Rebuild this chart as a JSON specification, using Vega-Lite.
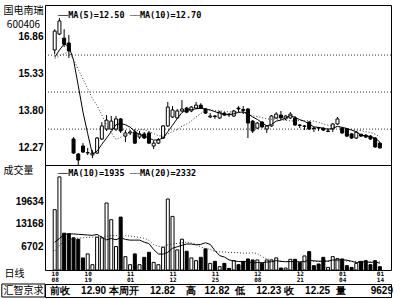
{
"$schema": "https://vega.github.io/schema/vega-lite/v6.json",
"background": "white",
"padding": {"left": 0, "top": 4, "right": 3, "bottom": 0},
"bounds": "full",
"spacing": 0,
"config": {
  "view": {"stroke": "#000", "strokeWidth": 1},
  "axis": {"ticks": false, "domain": false, "grid": false, "labelFont": "Liberation Sans", "labelFontWeight": "bold", "labelFontSize": 10, "labelColor": "#000", "titleColor": "#000", "titleFont": "Noto Sans CJK SC", "titleFontWeight": "normal", "titleFontSize": 10}
},
"datasets": {
"k": [
{"d":1,"o":16.30,"h":17.16,"l":16.13,"c":17.08,"v":17240,"m5":16.00,"m10":15.95,"vm10":7930,"vm20":5550},
{"d":2,"o":16.96,"h":17.62,"l":16.92,"c":17.50,"v":26600,"m5":16.30,"m10":16.05,"vm10":9000,"vm20":7000},
{"d":3,"o":16.79,"h":17.16,"l":16.42,"c":16.54,"v":10520,"m5":16.55,"m10":16.15,"vm10":10150,"vm20":8400},
{"d":4,"o":16.59,"h":16.92,"l":15.97,"c":16.26,"v":10340,"m5":16.45,"m10":16.22,"vm10":10340,"vm20":8700},
{"d":5,"o":12.62,"h":12.70,"l":12.00,"c":12.04,"v":9200,"m5":15.88,"m10":15.90,"vm10":10300,"vm20":8900},
{"d":6,"o":12.00,"h":12.04,"l":11.54,"c":11.75,"v":8800,"m5":14.82,"m10":15.50,"vm10":10200,"vm20":9100},
{"d":7,"o":12.33,"h":12.45,"l":12.04,"c":12.08,"v":3450,"m5":13.73,"m10":15.10,"vm10":10100,"vm20":9200},
{"d":8,"o":12.04,"h":12.25,"l":11.96,"c":12.06,"v":4600,"m5":12.84,"m10":14.70,"vm10":10000,"vm20":9300},
{"d":9,"o":11.96,"h":12.16,"l":11.83,"c":12.04,"v":1520,"m5":11.99,"m10":14.30,"vm10":9900,"vm20":9370},
{"d":10,"o":12.04,"h":12.70,"l":12.00,"c":12.66,"v":9370,"m5":12.12,"m10":14.00,"vm10":10164,"vm20":9500},
{"d":11,"o":12.62,"h":13.32,"l":12.58,"c":13.16,"v":9200,"m5":12.40,"m10":13.61,"vm10":9360,"vm20":9600},
{"d":12,"o":13.03,"h":13.61,"l":12.95,"c":13.40,"v":19140,"m5":12.66,"m10":13.20,"vm10":8614,"vm20":9700},
{"d":13,"o":13.03,"h":13.57,"l":12.99,"c":13.36,"v":14370,"m5":12.92,"m10":12.88,"vm10":8999,"vm20":9800},
{"d":14,"o":13.03,"h":13.57,"l":12.95,"c":13.45,"v":6700,"m5":13.21,"m10":12.60,"vm10":8635,"vm20":9850},
{"d":15,"o":13.45,"h":13.49,"l":12.87,"c":12.95,"v":15120,"m5":13.26,"m10":12.69,"vm10":9227,"vm20":9900},
{"d":16,"o":12.74,"h":12.99,"l":12.49,"c":12.87,"v":3820,"m5":13.21,"m10":12.80,"vm10":8729,"vm20":9800},
{"d":17,"o":12.87,"h":12.99,"l":12.78,"c":12.91,"v":1520,"m5":13.11,"m10":12.89,"vm10":8536,"vm20":9700},
{"d":18,"o":12.91,"h":13.03,"l":12.41,"c":12.45,"v":4600,"m5":12.93,"m10":12.93,"vm10":8536,"vm20":9500},
{"d":19,"o":12.70,"h":12.95,"l":12.62,"c":12.83,"v":1520,"m5":12.80,"m10":13.00,"vm10":8536,"vm20":9300},
{"d":20,"o":12.83,"h":12.91,"l":12.62,"c":12.66,"v":3620,"m5":12.74,"m10":13.00,"vm10":7961,"vm20":9063},
{"d":21,"o":12.87,"h":12.95,"l":12.41,"c":12.45,"v":5060,"m5":12.66,"m10":12.93,"vm10":7547,"vm20":8454},
{"d":22,"o":12.33,"h":12.54,"l":12.20,"c":12.45,"v":2180,"m5":12.57,"m10":12.84,"vm10":5851,"vm20":7233},
{"d":23,"o":12.45,"h":12.66,"l":12.41,"c":12.58,"v":1520,"m5":12.59,"m10":12.76,"vm10":4566,"vm20":6783},
{"d":24,"o":12.66,"h":13.20,"l":12.62,"c":13.16,"v":6500,"m5":12.66,"m10":12.73,"vm10":4546,"vm20":6591},
{"d":25,"o":13.16,"h":14.15,"l":13.12,"c":13.94,"v":20290,"m5":12.92,"m10":12.83,"vm10":5063,"vm20":7145},
{"d":26,"o":13.53,"h":13.98,"l":13.49,"c":13.82,"v":15320,"m5":13.19,"m10":12.93,"vm10":6213,"vm20":7471},
{"d":27,"o":13.49,"h":13.86,"l":13.45,"c":13.78,"v":5750,"m5":13.46,"m10":13.01,"vm10":6636,"vm20":7586},
{"d":28,"o":13.78,"h":14.23,"l":13.73,"c":13.86,"v":8800,"m5":13.71,"m10":13.15,"vm10":7056,"vm20":7796},
{"d":29,"o":13.90,"h":13.94,"l":13.69,"c":13.73,"v":5350,"m5":13.83,"m10":13.24,"vm10":7439,"vm20":7988},
{"d":30,"o":13.78,"h":13.98,"l":13.73,"c":13.94,"v":3450,"m5":13.83,"m10":13.37,"vm10":7422,"vm20":7692},
{"d":31,"o":13.90,"h":14.15,"l":13.86,"c":14.02,"v":2670,"m5":13.87,"m10":13.53,"vm10":7183,"vm20":7365},
{"d":32,"o":14.02,"h":14.10,"l":13.86,"c":13.90,"v":3620,"m5":13.89,"m10":13.67,"vm10":7327,"vm20":6589},
{"d":33,"o":13.86,"h":13.90,"l":13.65,"c":13.69,"v":6030,"m5":13.86,"m10":13.78,"vm10":7778,"vm20":6172},
{"d":34,"o":13.53,"h":13.69,"l":13.49,"c":13.57,"v":1900,"m5":13.82,"m10":13.83,"vm10":7318,"vm20":5932},
{"d":35,"o":13.57,"h":13.61,"l":13.45,"c":13.55,"v":2470,"m5":13.75,"m10":13.79,"vm10":5536,"vm20":5300},
{"d":36,"o":13.49,"h":13.78,"l":13.45,"c":13.73,"v":950,"m5":13.69,"m10":13.78,"vm10":4099,"vm20":5156},
{"d":37,"o":13.69,"h":13.73,"l":13.57,"c":13.61,"v":1900,"m5":13.63,"m10":13.76,"vm10":3714,"vm20":5175},
{"d":38,"o":13.65,"h":13.69,"l":13.53,"c":13.63,"v":460,"m5":13.62,"m10":13.74,"vm10":2880,"vm20":4968},
{"d":39,"o":13.57,"h":13.82,"l":13.53,"c":13.78,"v":2670,"m5":13.66,"m10":13.74,"vm10":2612,"vm20":5026},
{"d":40,"o":13.90,"h":13.98,"l":13.73,"c":13.86,"v":1520,"m5":13.72,"m10":13.73,"vm10":2419,"vm20":4921},
{"d":41,"o":13.84,"h":13.98,"l":13.65,"c":13.80,"v":2470,"m5":13.74,"m10":13.71,"vm10":2399,"vm20":4791},
{"d":42,"o":13.86,"h":13.90,"l":12.66,"c":13.28,"v":3160,"m5":13.67,"m10":13.65,"vm10":2353,"vm20":4840},
{"d":43,"o":13.36,"h":13.40,"l":12.87,"c":12.95,"v":2870,"m5":13.53,"m10":13.58,"vm10":2037,"vm20":4908},
{"d":44,"o":13.07,"h":13.32,"l":13.03,"c":13.28,"v":2870,"m5":13.43,"m10":13.55,"vm10":2134,"vm20":4726},
{"d":45,"o":13.32,"h":13.36,"l":13.07,"c":13.12,"v":1900,"m5":13.29,"m10":13.50,"vm10":2077,"vm20":3807},
{"d":46,"o":13.03,"h":13.20,"l":12.87,"c":13.16,"v":2870,"m5":13.16,"m10":13.45,"vm10":2269,"vm20":3184},
{"d":47,"o":13.16,"h":13.61,"l":13.12,"c":13.57,"v":2870,"m5":13.22,"m10":13.44,"vm10":2366,"vm20":3040},
{"d":48,"o":13.49,"h":13.73,"l":13.45,"c":13.65,"v":3450,"m5":13.36,"m10":13.45,"vm10":2665,"vm20":2773},
{"d":49,"o":13.61,"h":13.78,"l":13.45,"c":13.49,"v":570,"m5":13.40,"m10":13.42,"vm10":2455,"vm20":2534},
{"d":50,"o":13.45,"h":13.61,"l":13.40,"c":13.57,"v":570,"m5":13.49,"m10":13.39,"vm10":2360,"vm20":2390},
{"d":51,"o":13.49,"h":13.73,"l":13.45,"c":13.65,"v":3050,"m5":13.59,"m10":13.37,"vm10":2418,"vm20":2409},
{"d":52,"o":13.49,"h":13.57,"l":13.16,"c":13.20,"v":3050,"m5":13.51,"m10":13.36,"vm10":2407,"vm20":2380},
{"d":53,"o":13.20,"h":13.24,"l":13.07,"c":13.18,"v":2100,"m5":13.42,"m10":13.39,"vm10":2330,"vm20":2184},
{"d":54,"o":13.14,"h":13.20,"l":12.99,"c":13.16,"v":4020,"m5":13.35,"m10":13.38,"vm10":2445,"vm20":2290},
{"d":55,"o":13.32,"h":13.36,"l":12.99,"c":13.03,"v":5260,"m5":13.24,"m10":13.37,"vm10":2781,"vm20":2429},
{"d":56,"o":13.07,"h":13.12,"l":12.91,"c":13.05,"v":1240,"m5":13.12,"m10":13.36,"vm10":2618,"vm20":2444},
{"d":57,"o":13.09,"h":13.12,"l":12.95,"c":13.07,"v":1720,"m5":13.10,"m10":13.31,"vm10":2503,"vm20":2435},
{"d":58,"o":13.07,"h":13.10,"l":12.95,"c":12.99,"v":3620,"m5":13.06,"m10":13.24,"vm10":2520,"vm20":2593},
{"d":59,"o":12.93,"h":13.07,"l":12.91,"c":12.95,"v":750,"m5":13.02,"m10":13.19,"vm10":2538,"vm20":2497},
{"d":60,"o":13.03,"h":13.28,"l":12.91,"c":13.24,"v":3820,"m5":13.06,"m10":13.15,"vm10":2863,"vm20":2612},
{"d":61,"o":13.24,"h":13.53,"l":13.20,"c":13.45,"v":3250,"m5":13.14,"m10":13.13,"vm10":2883,"vm20":2651},
{"d":62,"o":13.07,"h":13.12,"l":12.83,"c":12.87,"v":3160,"m5":13.10,"m10":13.10,"vm10":2894,"vm20":2651},
{"d":63,"o":13.03,"h":13.07,"l":12.70,"c":12.74,"v":1240,"m5":13.05,"m10":13.06,"vm10":2808,"vm20":2569},
{"d":64,"o":12.83,"h":12.87,"l":12.62,"c":12.66,"v":750,"m5":12.99,"m10":13.01,"vm10":2481,"vm20":2463},
{"d":65,"o":12.66,"h":12.95,"l":12.62,"c":12.90,"v":1900,"m5":12.92,"m10":12.99,"vm10":2145,"vm20":2463},
{"d":66,"o":12.82,"h":12.82,"l":12.70,"c":12.74,"v":2470,"m5":12.78,"m10":12.96,"vm10":2268,"vm20":2443},
{"d":67,"o":12.78,"h":12.82,"l":12.66,"c":12.70,"v":2670,"m5":12.75,"m10":12.92,"vm10":2363,"vm20":2433},
{"d":68,"o":12.74,"h":12.78,"l":12.58,"c":12.62,"v":1520,"m5":12.72,"m10":12.89,"vm10":2152,"vm20":2337},
{"d":69,"o":12.66,"h":12.70,"l":12.25,"c":12.29,"v":2670,"m5":12.65,"m10":12.82,"vm10":2344,"vm20":2442},
{"d":70,"o":12.45,"h":12.49,"l":12.23,"c":12.25,"v":950,"m5":12.50,"m10":12.70,"vm10":1935,"vm20":2332}
]
},
"vconcat": [
{
"bounds": "flush",
"spacing": 0,
"vconcat": [
{
  "width": 346, "height": 160,
  "data": {"name": "k"},
  "title": {"text": "──MA(5)=12.50 ┈┈MA(10)=12.70", "orient": "top", "anchor": "start", "frame": "group", "offset": -18, "dx": 13, "baseline": "middle", "font": "DejaVu Sans Mono", "fontSize": 8.5, "fontWeight": "bold", "color": "#000"},
  "encoding": {"x": {"field": "d", "type": "quantitative", "scale": {"domain": [0, 71.3], "nice": false, "zero": false}, "axis": null}},
  "layer": [
    {"data": {"values": [{"g": 13.03}, {"g": 14.56}, {"g": 16.09}]},
     "mark": {"type": "rule", "color": "#333", "strokeDash": [1, 2], "strokeWidth": 1},
     "encoding": {"x": null, "y": {"field": "g", "type": "quantitative", "scale": {"domain": [11.545, 18.16], "nice": false, "zero": false},
        "axis": {"values": [12.27, 13.03, 13.80, 14.56, 15.33, 16.09, 16.86], "format": ".2f", "labelOverlap": false, "labelPadding": 2, "title": ["国电南瑞", "600406"], "titleAngle": 0, "titleX": -22, "titleY": 0, "titleAlign": "center", "titleBaseline": "top", "titleLineHeight": 14}}}},
    {"mark": {"type": "rule", "color": "#000", "strokeWidth": 1},
     "encoding": {"y": {"field": "l", "type": "quantitative"}, "y2": {"field": "h"}}},
    {"mark": {"type": "bar", "orient": "vertical", "size": 3, "stroke": "#000", "strokeWidth": 1},
     "encoding": {"y": {"field": "o", "type": "quantitative"}, "y2": {"field": "c"},
        "fill": {"condition": {"test": "datum.c >= datum.o", "value": "#fff"}, "value": "#000"}}},
    {"mark": {"type": "line", "color": "#333", "strokeWidth": 1, "strokeDash": [1, 2]},
     "encoding": {"y": {"field": "m10", "type": "quantitative"}}},
    {"mark": {"type": "line", "color": "#000", "strokeWidth": 1},
     "encoding": {"y": {"field": "m5", "type": "quantitative"}}}
  ]
},
{
  "width": 346, "height": 105,
  "data": {"name": "k"},
  "title": {"text": "──MA(10)=1935 ┈┈MA(20)=2332", "orient": "top", "anchor": "start", "frame": "group", "offset": -16, "dx": 13, "baseline": "middle", "font": "DejaVu Sans Mono", "fontSize": 8.5, "fontWeight": "bold", "color": "#000"},
  "encoding": {"x": {"field": "d", "type": "quantitative", "scale": {"domain": [0, 71.3], "nice": false, "zero": false},
     "axis": {"values": [1, 8, 17, 26, 35, 44, 53, 62, 70],
       "labelExpr": "datum.value == 1 ? ['10','08'] : datum.value == 8 ? ['10','19'] : datum.value == 17 ? ['11','01'] : datum.value == 26 ? ['11','12'] : datum.value == 35 ? ['11','25'] : datum.value == 44 ? ['12','08'] : datum.value == 53 ? ['12','21'] : datum.value == 62 ? ['01','04'] : ['01','14']",
       "labelFont": "DejaVu Sans Mono", "labelFontSize": 6, "labelFontWeight": "bold", "labelLineHeight": 6.5, "labelBaseline": "top", "labelPadding": 0, "labelDx": -3, "labelFlush": false, "labelOverlap": false,
       "title": "日线", "titleAngle": 0, "titleX": -41, "titleY": -2, "titleAlign": "left", "titleBaseline": "top"}}},
  "layer": [
    {"mark": {"type": "bar", "orient": "vertical", "size": 3, "stroke": "#000", "strokeWidth": 1},
     "encoding": {"y": {"field": "v", "type": "quantitative", "scale": {"domain": [0, 30000], "nice": false},
        "axis": {"values": [6702, 13168, 19634], "format": "d", "labelOverlap": false, "labelPadding": 2, "title": "成交量", "titleAngle": 0, "titleX": -42, "titleY": 0, "titleAlign": "left", "titleBaseline": "top"}},
        "fill": {"condition": {"test": "datum.c >= datum.o", "value": "#fff"}, "value": "#000"}}},
    {"mark": {"type": "line", "color": "#333", "strokeWidth": 1, "strokeDash": [1, 2]},
     "encoding": {"y": {"field": "vm20", "type": "quantitative"}}},
    {"mark": {"type": "line", "color": "#000", "strokeWidth": 1},
     "encoding": {"y": {"field": "vm10", "type": "quantitative"}}}
  ]
}
]
},
{
  "width": 346, "height": 13,
  "data": {"values": [{}]},
  "layer": [
    {"mark": {"type": "rect", "fill": "#fff", "fillOpacity": 0, "stroke": "#000", "strokeWidth": 1},
     "encoding": {"x": {"datum": -8.9, "type": "quantitative", "scale": {"domain": [0, 71.3], "nice": false, "zero": false}, "axis": null}, "x2": {"datum": 0}}},
    {"mark": {"type": "text", "align": "center", "baseline": "middle", "font": "Noto Sans CJK SC", "fontSize": 10, "color": "#000", "text": "汇智京求"},
     "encoding": {"x": {"datum": -4.45}}},
    {"mark": {"type": "text", "align": "left", "baseline": "middle", "font": "Liberation Sans", "fontSize": 10, "fontWeight": "bold", "color": "#000",
       "text": "前收\u00a0\u00a0\u00a0\u00a012.90\u00a0本周开\u00a0\u00a0\u00a0\u00a012.82\u00a0\u00a0\u00a0\u00a0高\u00a0\u00a0\u00a012.82\u00a0\u00a0低\u00a0\u00a0\u00a0\u00a012.23\u00a0收\u00a0\u00a0\u00a0\u00a012.25\u00a0\u00a0量\u00a0\u00a0\u00a0\u00a0\u00a0\u00a0\u00a0\u00a0\u00a09629"},
     "encoding": {"x": {"datum": 1.03}}}
  ]
}
]
}
